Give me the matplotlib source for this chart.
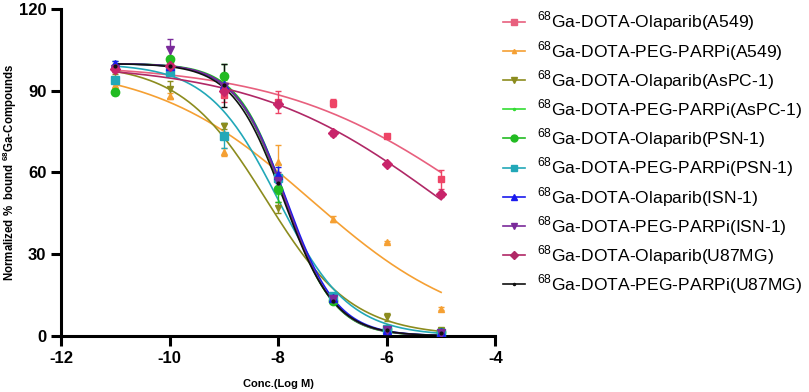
import numpy as np
import matplotlib
matplotlib.use("Agg")
import matplotlib.pyplot as plt

plt.rcParams['font.family'] = ['Liberation Sans', 'DejaVu Sans']
plt.rcParams['mathtext.fontset'] = 'custom'
plt.rcParams['mathtext.rm'] = 'Liberation Sans'
plt.rcParams['mathtext.bf'] = 'Liberation Sans:bold'
plt.rcParams['axes.unicode_minus'] = False

# log concentration (M)
logConc = [-11, -10, -9, -8, -7, -6, -5]

labels = [
    r"$^{68}$Ga-DOTA-Olaparib(A549)",
    r"$^{68}$Ga-DOTA-PEG-PARPi(A549)",
    r"$^{68}$Ga-DOTA-Olaparib(AsPC-1)",
    r"$^{68}$Ga-DOTA-PEG-PARPi(AsPC-1)",
    r"$^{68}$Ga-DOTA-Olaparib(PSN-1)",
    r"$^{68}$Ga-DOTA-PEG-PARPi(PSN-1)",
    r"$^{68}$Ga-DOTA-Olaparib(ISN-1)",
    r"$^{68}$Ga-DOTA-PEG-PARPi(ISN-1)",
    r"$^{68}$Ga-DOTA-Olaparib(U87MG)",
    r"$^{68}$Ga-DOTA-PEG-PARPi(U87MG)",
]

# mean bound (%)
olaA549 = [98.5, 99.5, 88.5, 86.0, 85.5, 73.5, 57.5]
pegA549 = [92.0, 88.0, 67.5, 64.0, 43.0, 34.5, 10.0]
olaAsPC = [97.0, 90.5, 77.0, 47.0, 14.0, 7.0, 2.0]
pegAsPC = [100.0, 100.0, 93.0, 55.0, 14.0, 2.0, 1.0]
olaPSN = [89.5, 101.5, 95.5, 54.0, 13.0, 2.5, 1.5]
pegPSN = [94.0, 97.0, 73.5, 58.0, 14.5, 2.5, 1.0]
olaISN = [100.0, 99.0, 92.0, 59.0, 14.0, 2.0, 1.5]
pegISN = [98.0, 105.0, 91.5, 57.0, 13.5, 2.0, 1.0]
olaU87 = [98.0, 99.0, 90.0, 85.0, 74.5, 63.0, 52.0]
pegU87 = [99.0, 99.0, 92.0, 56.0, 13.0, 2.0, 1.0]

# SD
errOlaA549 = [1.0, 1.0, 2.5, 4.0, 1.5, 0.8, 3.5]
errPegA549 = [1.0, 1.0, 1.5, 6.0, 1.0, 0.5, 0.5]
errOlaAsPC = [1.0, 3.0, 1.0, 2.0, 1.0, 1.5, 1.0]
errPegAsPC = [1.0, 1.0, 1.0, 3.0, 1.0, 0.5, 0.5]
errOlaPSN = [1.0, 1.0, 4.5, 5.0, 1.0, 0.5, 0.5]
errPegPSN = [1.0, 1.0, 4.5, 5.0, 1.0, 0.5, 0.5]
errOlaISN = [1.0, 1.0, 1.0, 3.0, 1.0, 0.5, 0.5]
errPegISN = [1.0, 4.0, 1.0, 3.0, 1.0, 0.5, 0.5]
errOlaU87 = [1.0, 1.0, 1.0, 1.0, 1.0, 0.5, 1.0]
errPegU87 = [1.0, 1.0, 8.0, 3.0, 1.0, 0.5, 0.5]

# four-parameter fits: logIC50 and hill slope (top 100, bottom 0)
logIC50 = [-4.26, -7.40, -8.22, -7.88, -7.86, -8.00, -7.85, -7.87, -5.00, -7.90]
hill = [0.237, 0.30, 0.55, 0.95, 0.97, 0.67, 0.93, 0.95, 0.25, 0.92]

means = [olaA549, pegA549, olaAsPC, pegAsPC, olaPSN, pegPSN, olaISN, pegISN, olaU87, pegU87]
errs = [errOlaA549, errPegA549, errOlaAsPC, errPegAsPC, errOlaPSN, errPegPSN,
        errOlaISN, errPegISN, errOlaU87, errPegU87]
colors = ['#ee4466', '#f5a033', '#8c8c1e', '#33dd33', '#22bb22', '#22a8b8',
          '#1a1aee', '#7a2a9a', '#c8246a', '#111111']
lineColors = ['#e8607e', '#f5a033', '#8c8c1e', '#33dd33', '#22bb22', '#22a8b8',
              '#1a1aee', '#7a2a9a', '#b02866', '#111111']
markers = ['s', '^', 'v', '.', 'o', 's', '^', 'v', 'D', '.']
msizes = [5, 4, 5, 4, 6, 6, 6, 6, 5, 4]

fig = plt.figure(figsize=(8.09, 3.92), dpi=100)
ax = fig.add_axes([0.0754, 0.143, 0.537, 0.834])

xs = np.linspace(-11, -5, 200)
for i in range(len(labels)):
    curve = 100.0 / (1 + 10 ** ((xs - logIC50[i]) * hill[i]))
    ax.plot(xs, curve, color=lineColors[i], lw=1.2, zorder=2)
    ax.errorbar(logConc, means[i], yerr=errs[i], fmt=markers[i], color=colors[i],
                ms=msizes[i], capsize=2, elinewidth=1, zorder=3)

ax.set_xlim(-12, -4)
ax.set_ylim(0, 120)
ax.set_xticks([-12, -10, -8, -6, -4])
ax.set_yticks([0, 30, 60, 90, 120])
for s in ['top', 'right']:
    ax.spines[s].set_visible(False)
for s in ['left', 'bottom']:
    ax.spines[s].set_linewidth(2.2)
ax.tick_params(width=2.2, length=7, labelsize=12)
for t in ax.get_xticklabels() + ax.get_yticklabels():
    t.set_fontweight('bold')

ax.set_xlabel('Conc.(Log M)', fontsize=8, fontweight='bold', labelpad=10)
ax.set_ylabel(r"Normalized %  bound $^{\mathbf{68}}$Ga-Compounds", fontsize=8.3,
              fontweight='bold')
ax.yaxis.set_label_coords(-0.096, 0.5)

handles = []
for i in range(len(labels)):
    h, = ax.plot([], [], color=lineColors[i], marker=markers[i], ms=msizes[i] - 1, lw=1.2)
    handles.append(h)
fig.legend(handles, labels, loc='upper left', bbox_to_anchor=(0.622, 0.975),
           frameon=False, fontsize=12.6, handlelength=1.25, handletextpad=0.7,
           labelspacing=0.32, borderpad=0, borderaxespad=0)

fig.savefig('out.png', dpi=100)
